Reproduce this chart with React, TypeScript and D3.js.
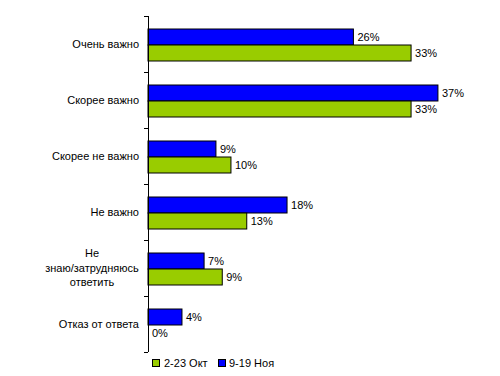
import React from "react";
import * as d3 from "d3";

const categories: string[][] = [
  ["Очень важно"],
  ["Скорее важно"],
  ["Скорее не важно"],
  ["Не важно"],
  ["Не", "знаю/затрудняюсь", "ответить"],
  ["Отказ от ответа"],
];
const seriesNames = ["2-23 Окт", "9-19 Ноя"];
const novValues = [26.0, 36.7, 8.6, 17.6, 7.1, 4.3];
const octValues = [33.3, 33.3, 10.5, 12.5, 9.4, 0];
const novLabels = ["26%", "37%", "9%", "18%", "7%", "4%"];
const octLabels = ["33%", "33%", "10%", "13%", "9%", "0%"];

const BLUE = "#0000FF";
const GREEN = "#99CC00";

export default function App() {
  const W = 500, H = 376;
  const x = d3.scaleLinear().domain([0, 40]).range([148, 464]);
  const y = d3.scaleBand<number>().domain(d3.range(categories.length)).range([16, 352]);
  const inner = d3.scaleBand<string>().domain(["nov", "oct"]).range([13, 45]);
  const font = "Liberation Sans, Arial, sans-serif";
  return (
    <svg width={W} height={H} style={{ position: "absolute", left: 0, top: 0 }}>
      <rect width={W} height={H} fill="#fff" />
      {categories.map((c, i) => {
        const y0 = y(i)!;
        const yb = y0 + inner("nov")!;
        const yg = y0 + inner("oct")!;
        const bh = inner.bandwidth();
        const cy = y0 + y.bandwidth() / 2;
        return (
          <g key={i}>
            <rect x={x(0)} y={yb} width={x(novValues[i]) - x(0)} height={bh} fill={BLUE} stroke="#000" strokeWidth={1} />
            <rect x={x(0)} y={yg} width={x(octValues[i]) - x(0)} height={bh} fill={GREEN} stroke="#000" strokeWidth={1} />
            <text x={x(novValues[i]) + 4} y={yb + bh / 2} dy="0.35em" fontFamily={font} fontSize={11} fill="#000">{novLabels[i]}</text>
            <text x={x(octValues[i]) + 4} y={yg + bh / 2} dy="0.35em" fontFamily={font} fontSize={11} fill="#000">{octLabels[i]}</text>
            {c.length === 1 ? (
              <text x={139} y={cy} dy="0.35em" textAnchor="end" fontFamily={font} fontSize={11} fill="#000">{c[0]}</text>
            ) : (
              c.map((line, j) => (
                <text key={j} x={92} y={cy + (j - (c.length - 1) / 2) * 14.5} dy="0.35em" textAnchor="middle" fontFamily={font} fontSize={11} fill="#000">{line}</text>
              ))
            )}
          </g>
        );
      })}
      <line x1={148.5} x2={148.5} y1={16} y2={352} stroke="#000" strokeWidth={1} />
      {d3.range(categories.length + 1).map((i) => {
        const yy = Math.round(16 + i * y.step()) + 0.5;
        return <line key={i} x1={144} x2={148} y1={yy} y2={yy} stroke="#000" strokeWidth={1} />;
      })}
      <g>
        <rect x={152.5} y={359.5} width={7} height={7} fill={GREEN} stroke="#000" />
        <text x={164} y={363} dy="0.35em" fontFamily={font} fontSize={11} fill="#000">{seriesNames[0]}</text>
        <rect x={218.5} y={359.5} width={7} height={7} fill={BLUE} stroke="#000" />
        <text x={229} y={363} dy="0.35em" fontFamily={font} fontSize={11} fill="#000">{seriesNames[1]}</text>
      </g>
    </svg>
  );
}
